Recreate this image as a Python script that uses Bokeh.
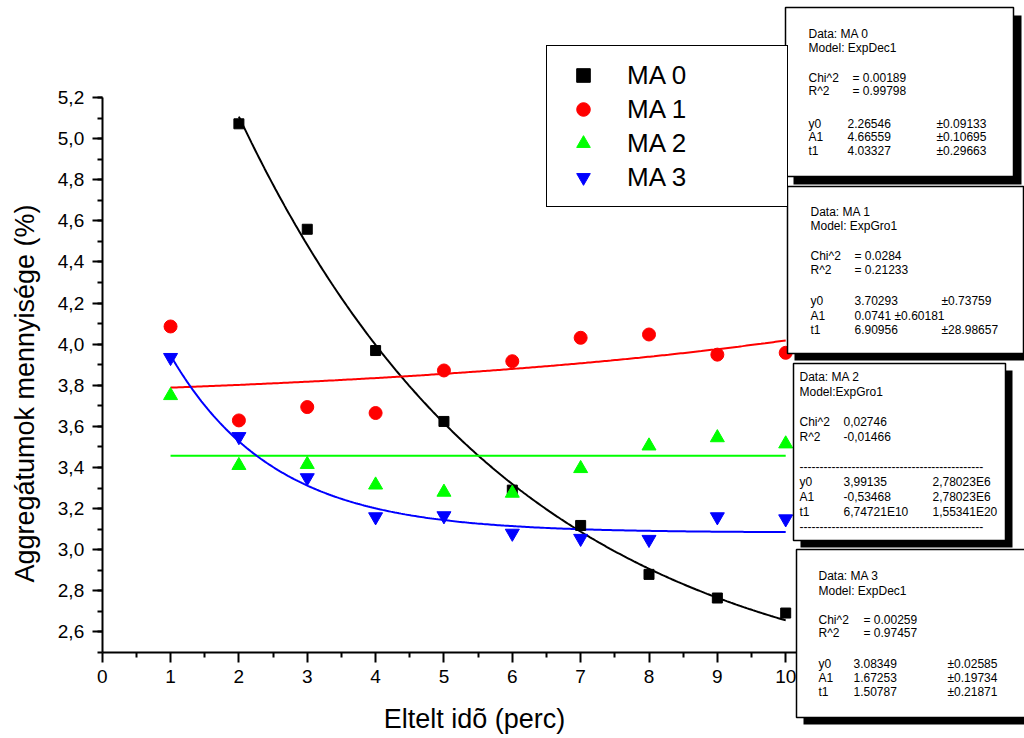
import numpy as np
from bokeh.plotting import figure
from bokeh.models import Range1d, FixedTicker, Label, BoxAnnotation, Legend, LegendItem
from bokeh.embed import file_html
from bokeh.resources import INLINE

# ---------------- data ----------------
time_min = [1, 2, 3, 4, 5, 6, 7, 8, 9, 10]
ma0_x = [2, 3, 4, 5, 6, 7, 8, 9, 10]
ma0_y = [5.072, 4.559, 3.969, 3.624, 3.29, 3.118, 2.880, 2.765, 2.692]
ma1_y = [4.086, 3.629, 3.694, 3.665, 3.872, 3.917, 4.031, 4.047, 3.949, 3.958]
ma2_y = [3.75, 3.41, 3.415, 3.315, 3.28, 3.275, 3.395, 3.505, 3.545, 3.515]
ma3_y = [3.935, 3.55, 3.35, 3.16, 3.165, 3.08, 3.055, 3.05, 3.16, 3.15]

series_names = ["MA 0", "MA 1", "MA 2", "MA 3"]

# fit parameters (as printed in the result boxes)
fit_ma0 = {"y0": 2.26546, "A1": 4.66559, "t1": 4.03327}      # ExpDec1
fit_ma1 = {"y0": 3.70293, "A1": 0.0741, "t1": 6.90956}       # ExpGro1
fit_ma2 = {"y0": 3.99135, "A1": -0.53468, "t1": 6.74721e10}  # ExpGro1
fit_ma3 = {"y0": 3.08349, "A1": 1.67253, "t1": 1.50787}      # ExpDec1

x_ticks = [0, 1, 2, 3, 4, 5, 6, 7, 8, 9, 10, 11]
y_ticks = [2.6, 2.8, 3.0, 3.2, 3.4, 3.6, 3.8, 4.0, 4.2, 4.4, 4.6, 4.8, 5.0, 5.2]
y_tick_labels = ["2,6", "2,8", "3,0", "3,2", "3,4", "3,6", "3,8", "4,0",
                 "4,2", "4,4", "4,6", "4,8", "5,0", "5,2"]
x_axis_span = (0, 11)
y_axis_span = (2.5, 5.2)

x_title = "Eltelt idõ (perc)"
y_title = "Aggregátumok mennyisége (%)"

box1_text = [("Data: MA 0", None, None), ("Model: ExpDec1", None, None),
             ("Chi^2", "=  0.00189", None), ("R^2", "=  0.99798", None),
             ("y0", "2.26546", "±0.09133"), ("A1", "4.66559", "±0.10695"),
             ("t1", "4.03327", "±0.29663")]
box2_text = [("Data: MA 1", None, None), ("Model: ExpGro1", None, None),
             ("Chi^2", "=  0.0284", None), ("R^2", "=  0.21233", None),
             ("y0", "3.70293", "±0.73759"), ("A1", "0.0741  ±0.60181", None),
             ("t1", "6.90956", "±28.98657")]
box3_text = [("Data: MA 2", None, None), ("Model:ExpGro1", None, None),
             ("Chi^2", "0,02746", None), ("R^2", "-0,01466", None),
             ("-" * 46, None, None),
             ("y0", "3,99135", "2,78023E6"), ("A1", "-0,53468", "2,78023E6"),
             ("t1", "6,74721E10", "1,55341E20"),
             ("-" * 46, None, None)]
box4_text = [("Data: MA 3", None, None), ("Model: ExpDec1", None, None),
             ("Chi^2", "=  0.00259", None), ("R^2", "=  0.97457", None),
             ("y0", "3.08349", "±0.02585"), ("A1", "1.67253", "±0.19734"),
             ("t1", "1.50787", "±0.21871")]

# ---------------- layout ----------------
FONT = "Liberation Sans"
W, H = 1024, 738
# pixel position of the axes origin and scale (frame covers the whole canvas)
X0_PX, X_PX_PER_UNIT = 101.7, 68.35
Y0_PX, Y_PX_PER_UNIT = 652.0, 205.56   # y = 2.5 at Y0_PX

x_lo = x_axis_span[0] - X0_PX / X_PX_PER_UNIT
x_hi = x_axis_span[0] + (W - X0_PX) / X_PX_PER_UNIT
y_lo = y_axis_span[0] - (H - Y0_PX) / Y_PX_PER_UNIT
y_hi = y_axis_span[0] + Y0_PX / Y_PX_PER_UNIT

p = figure(width=W, height=H, output_backend="svg", toolbar_location=None,
           x_range=Range1d(x_lo, x_hi), y_range=Range1d(y_lo, y_hi),
           min_border=0)
p.outline_line_color = None
p.grid.visible = False
p.background_fill_color = "white"
p.border_fill_color = "white"

p.xaxis.fixed_location = y_axis_span[0]
p.xaxis.bounds = x_axis_span
p.yaxis.fixed_location = x_axis_span[0]
p.yaxis.bounds = y_axis_span

for ax in (p.xaxis[0], p.yaxis[0]):
    ax.axis_line_width = 2
    ax.major_tick_line_width = 2
    ax.minor_tick_line_width = 2
    ax.major_tick_in = 0
    ax.minor_tick_in = 0
    ax.major_tick_out = 10
    ax.minor_tick_out = 5
    ax.major_label_text_font = FONT
    ax.major_label_text_font_size = "19px"
    ax.major_label_text_color = "black"
    ax.axis_line_color = "black"
    ax.major_tick_line_color = "black"
    ax.minor_tick_line_color = "black"

p.xaxis.ticker = FixedTicker(ticks=x_ticks, minor_ticks=[t + 0.5 for t in x_ticks[:-1]])
p.xaxis.major_label_standoff = 7
p.yaxis.ticker = FixedTicker(ticks=y_ticks,
                             minor_ticks=[round(2.5 + 0.1 * i, 1) for i in range(28)])
p.yaxis.major_label_overrides = {t: s for t, s in zip(y_ticks, y_tick_labels)}
p.yaxis.major_label_standoff = 8

# fit curves
def exp_dec(x, f):
    return f["y0"] + f["A1"] * np.exp(-x / f["t1"])

def exp_gro(x, f):
    return f["y0"] + f["A1"] * np.exp(x / f["t1"])

xf0 = np.linspace(min(ma0_x), max(ma0_x), 300)
xf = np.linspace(min(time_min), max(time_min), 300)
p.line(xf0, exp_dec(xf0, fit_ma0), line_color="black", line_width=2)
p.line(xf, exp_gro(xf, fit_ma1), line_color="#FF0000", line_width=2)
p.line(xf, exp_gro(xf, fit_ma2), line_color="#00FF00", line_width=2)
p.line(xf, exp_dec(xf, fit_ma3), line_color="#0000FF", line_width=2)

# data points
r0 = p.scatter(ma0_x, ma0_y, marker="square", size=10, fill_color="black", line_color="black")
r1 = p.scatter(time_min, ma1_y, marker="circle", size=13, fill_color="#FF0000", line_color="#FF0000")
r2 = p.scatter(time_min, ma2_y, marker="triangle", size=14, fill_color="#00FF00", line_color="#00FF00")
r3 = p.scatter(time_min, ma3_y, marker="inverted_triangle", size=14, fill_color="#0000FF", line_color="#0000FF")

# page pixel -> screen units (frame = whole canvas, origin bottom-left)
def sx(X):
    return X
def sy(Y):
    return H - Y

legend = Legend(items=[LegendItem(label=n, renderers=[r]) for n, r in
                       zip(series_names, [r0, r1, r2, r3])],
                location=(sx(546), sy(207)), orientation="vertical",
                glyph_width=48, glyph_height=34, label_height=34, label_width=148,
                label_standoff=20, spacing=0, padding=12, margin=0,
                border_line_color="black", border_line_width=1.5, border_line_alpha=1,
                background_fill_color="white", background_fill_alpha=1,
                label_text_font=FONT, label_text_font_size="26px",
                label_text_color="black")
p.add_layout(legend)

# axis titles
p.add_layout(Label(x=sx(474), y=sy(718), x_units="screen", y_units="screen",
                   text=x_title, text_font=FONT, text_font_size="27px",
                   text_align="center", text_baseline="middle", text_color="black"))
p.add_layout(Label(x=sx(24), y=sy(393), x_units="screen", y_units="screen",
                   text=y_title, text_font=FONT, text_font_size="27px", angle=np.pi / 2,
                   text_align="center", text_baseline="middle", text_color="black"))

def add_box(l, t, r, b, shadow, rows, row_y, cols):
    p.add_layout(BoxAnnotation(left=sx(l + shadow), right=sx(r + shadow),
                               top=sy(t + shadow), bottom=sy(b + shadow),
                               left_units="screen", right_units="screen",
                               top_units="screen", bottom_units="screen",
                               fill_color="black", fill_alpha=1, line_color=None,
                               level="overlay"))
    p.add_layout(BoxAnnotation(left=sx(l), right=sx(r), top=sy(t), bottom=sy(b),
                               left_units="screen", right_units="screen",
                               top_units="screen", bottom_units="screen",
                               fill_color="white", fill_alpha=1,
                               line_color="black", line_alpha=1, line_width=1.5,
                               level="overlay"))
    for (a, bb, c), Y in zip(rows, row_y):
        for txt, X in zip((a, bb, c), cols(a, bb)):
            if txt is None:
                continue
            p.add_layout(Label(x=sx(X), y=sy(Y), x_units="screen", y_units="screen",
                               text=txt, text_font=FONT, text_font_size="12px",
                               text_align="left", text_baseline="middle",
                               text_color="black", level="overlay"))

add_box(785, 7, 1013, 176, 8, box1_text, [33, 47, 77, 90, 123, 136, 150],
        lambda a, b: (808, 852 if (b or "").startswith("=") else 847, 936))
add_box(787, 186, 1023, 353, 7, box2_text, [211, 225, 255, 269, 300, 315, 329],
        lambda a, b: (810, 854, 941))
add_box(793, 363, 1005, 540, 7, box3_text, [376, 391, 421, 436, 466, 481, 496, 511, 526],
        lambda a, b: (799, 843, 932))
add_box(796, 549, 1030, 717, 7, box4_text, [575, 590, 619, 632, 663, 677, 691],
        lambda a, b: (818, 863 if (b or "").startswith("=") else 853, 947))

open("out.html", "w").write(file_html(p, INLINE))
